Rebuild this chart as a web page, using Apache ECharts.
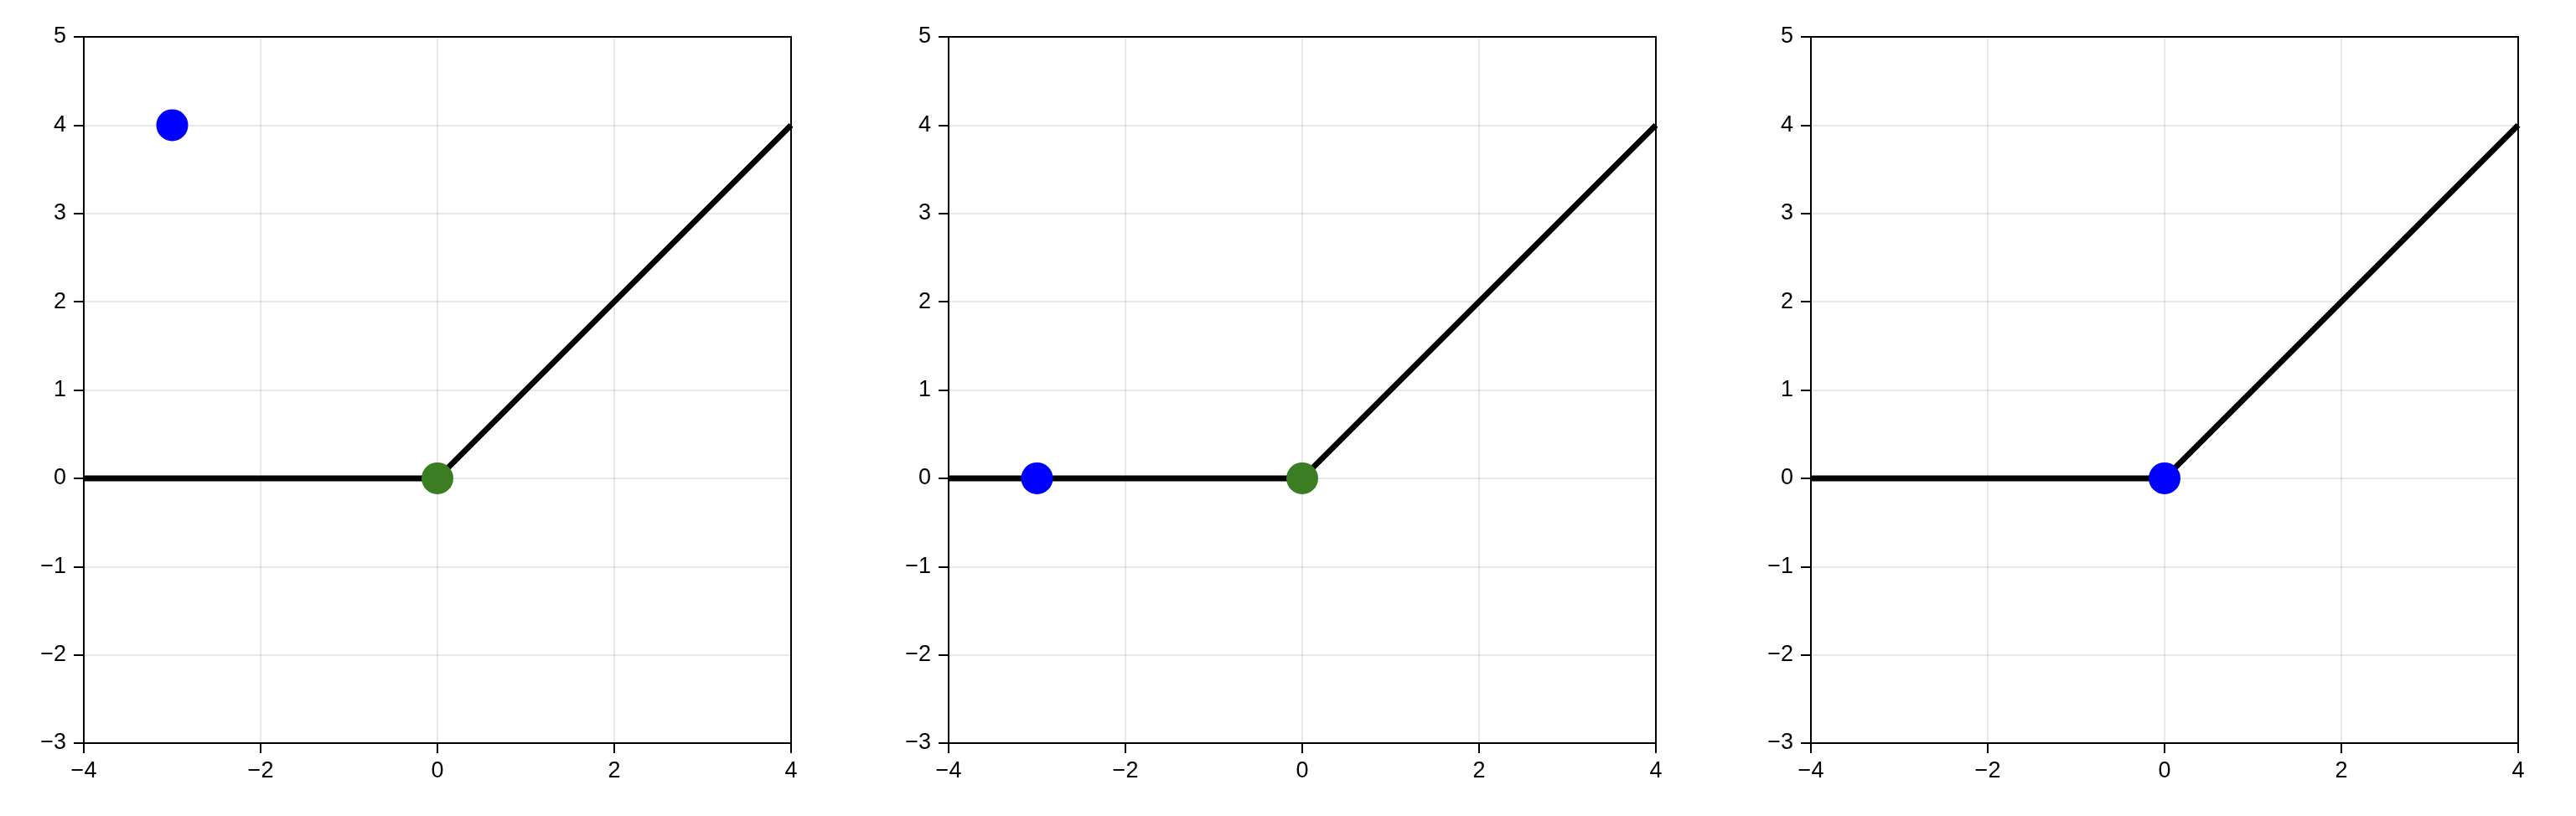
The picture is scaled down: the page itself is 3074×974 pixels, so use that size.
<!DOCTYPE html>
<html>
<head>
<meta charset="utf-8">
<script src="https://cdn.jsdelivr.net/npm/echarts@6/dist/echarts.min.js"></script>
<style>
  html, body { margin: 0; padding: 0; background: #fff; }
  #chart { width: 3074px; height: 974px; }
</style>
</head>
<body>
<div id="chart"></div>
<script>
// ReLU line (same in every panel)
var reluX = [-4, 0, 4];
var reluY = [0, 0, 4];

// dots per panel
var bluePoints = [[-3, 4], [-3, 0], [0, 0]];
var greenPoints = [[0, 0], [0, 0], null];

var xTicks = [-4, -2, 0, 2, 4];
var yTicks = [-3, -2, -1, 0, 1, 2, 3, 4, 5];

var panelLeft = [100, 1132, 2161];
var panelWidth = 844;

var font = "'Liberation Sans', Arial, sans-serif";

var grids = [], xAxes = [], yAxes = [], series = [];

function fmt(v) { return v < 0 ? '\u2212' + Math.abs(v) : String(v); }

for (var i = 0; i < 3; i++) {
  grids.push({
    left: panelLeft[i], top: 44, width: panelWidth, height: 843,
    show: true, borderColor: '#000', borderWidth: 2, backgroundColor: 'transparent'
  });
  xAxes.push({
    gridIndex: i, type: 'value',
    min: xTicks[0], max: xTicks[xTicks.length - 1], interval: 2,
    axisLine: { onZero: false, lineStyle: { color: '#000', width: 2 } },
    axisTick: { show: true, length: 12, lineStyle: { color: '#000', width: 2 } },
    axisLabel: { color: '#000', fontSize: 27, fontFamily: font, margin: 20, formatter: fmt },
    splitLine: { show: true, lineStyle: { color: 'rgba(0,0,0,0.12)', width: 1.5 } }
  });
  yAxes.push({
    gridIndex: i, type: 'value',
    min: yTicks[0], max: yTicks[yTicks.length - 1], interval: 1,
    axisLine: { onZero: false, lineStyle: { color: '#000', width: 2 } },
    axisTick: { show: true, length: 12, lineStyle: { color: '#000', width: 2 } },
    axisLabel: { color: '#000', fontSize: 27, fontFamily: font, margin: 21, formatter: fmt },
    splitLine: { show: true, lineStyle: { color: 'rgba(0,0,0,0.12)', width: 1.5 } }
  });

  var lineData = [];
  for (var k = 0; k < reluX.length; k++) lineData.push([reluX[k], reluY[k]]);
  series.push({
    type: 'line', xAxisIndex: i, yAxisIndex: i, data: lineData,
    showSymbol: false, lineStyle: { color: '#000', width: 7 }, z: 2, silent: true
  });
  if (greenPoints[i]) {
    series.push({
      type: 'scatter', xAxisIndex: i, yAxisIndex: i, data: [greenPoints[i]],
      symbolSize: 38, itemStyle: { color: '#3a7d22', opacity: 1 }, z: 3
    });
  }
  series.push({
    type: 'scatter', xAxisIndex: i, yAxisIndex: i, data: [bluePoints[i]],
    symbolSize: 38, itemStyle: { color: '#0000ff', opacity: 1 }, z: 4
  });
}

var chart = echarts.init(document.getElementById('chart'));
chart.setOption({
  animation: false,
  backgroundColor: '#fff',
  grid: grids,
  xAxis: xAxes,
  yAxis: yAxes,
  series: series
});
</script>
</body>
</html>
